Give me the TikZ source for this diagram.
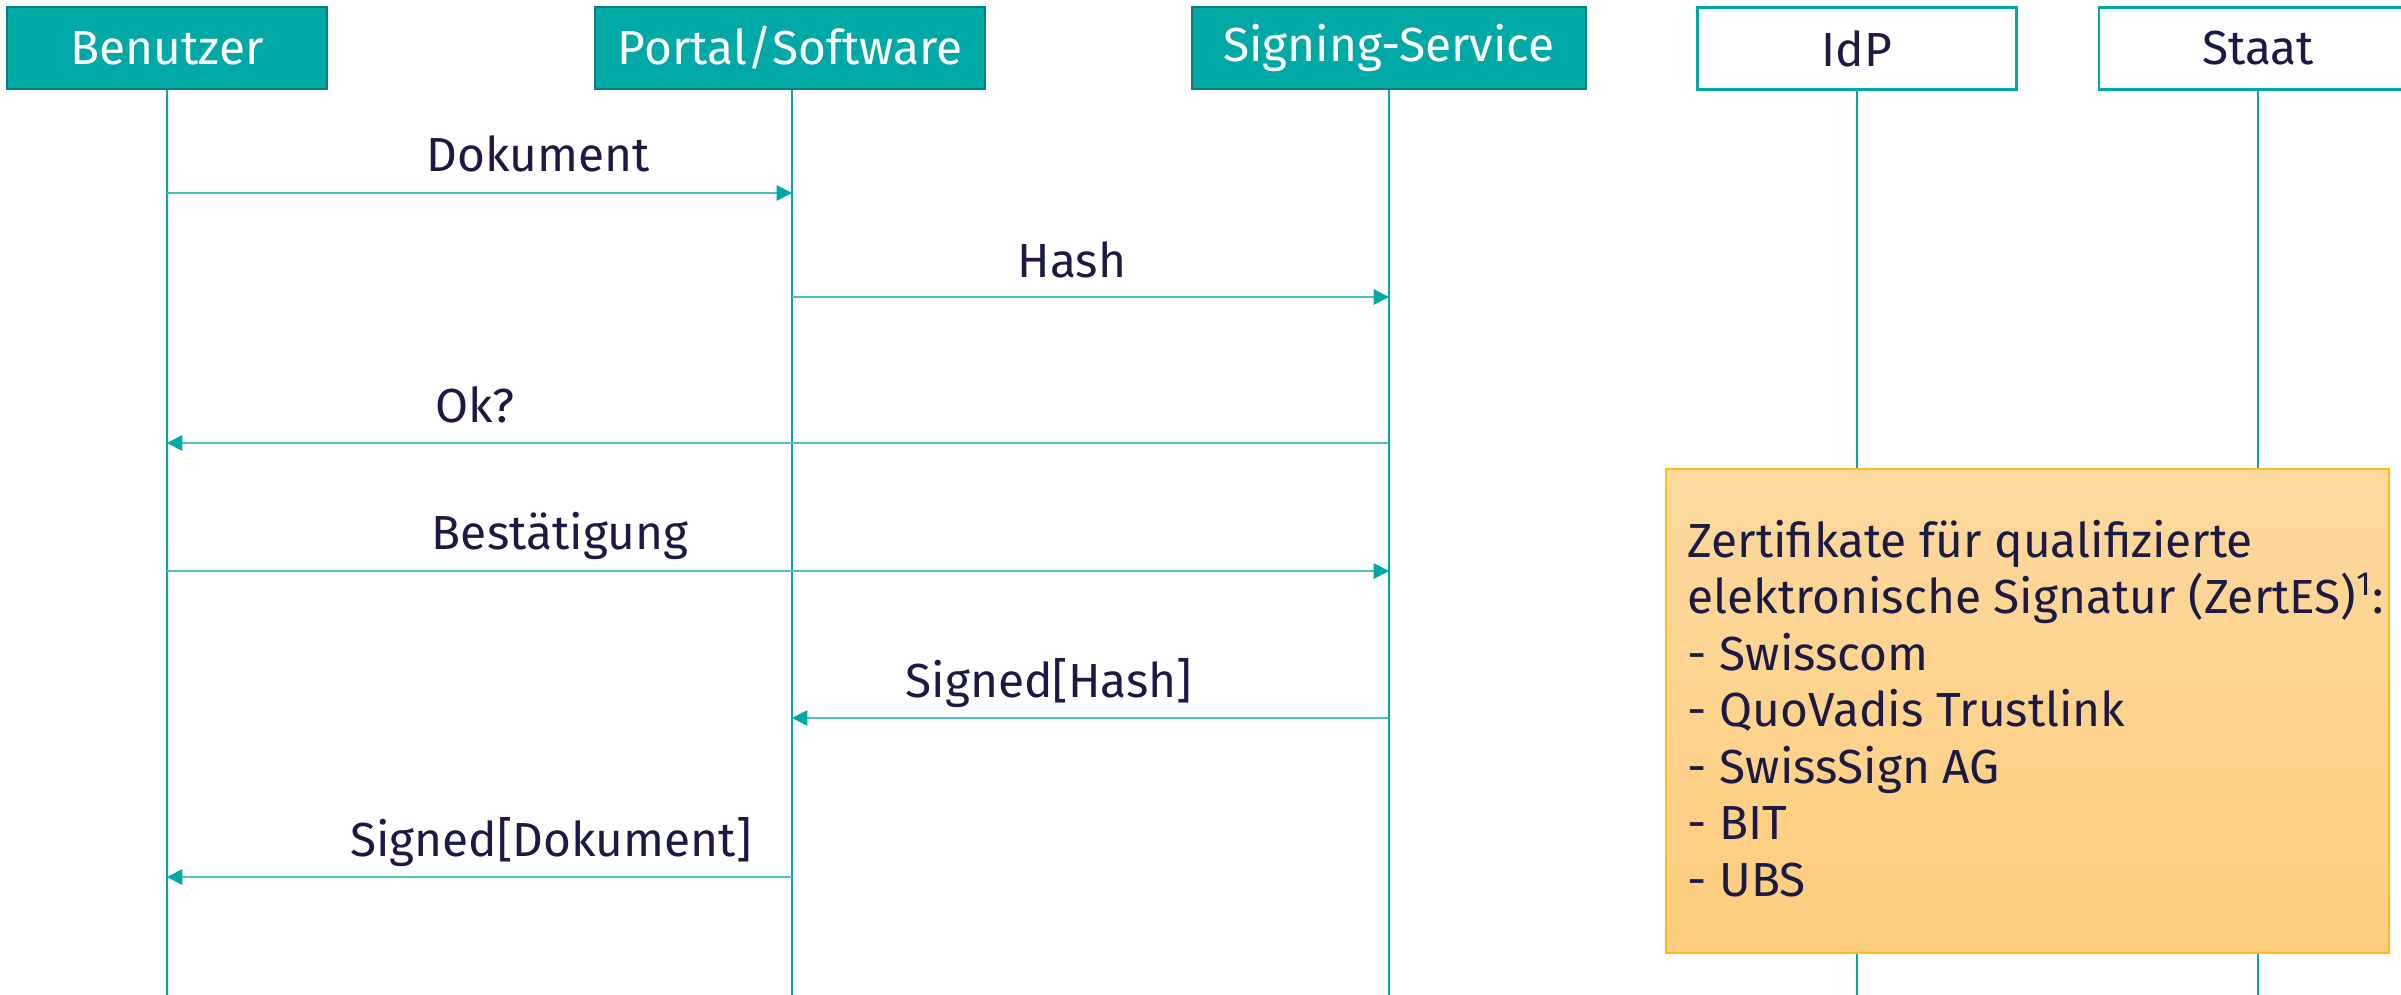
\documentclass[tikz,border=0pt]{standalone}
\usepackage{fontspec}
\setmainfont{Fira Sans}
\usetikzlibrary{arrows.meta}
\definecolor{teal1}{HTML}{00A8A6}
\definecolor{tealdark}{HTML}{0A7F7C}
\definecolor{teallight}{HTML}{4CC0BC}
\definecolor{navy}{HTML}{1B1A45}
\definecolor{orangetop}{HTML}{FDD99E}
\definecolor{orangebot}{HTML}{FECD7D}
\definecolor{orangeborder}{HTML}{FDBB1C}
\tikzset{
  x=0.01cm, y=-0.01cm,
  every node/.style={font=\fontsize{13.6}{16}\selectfont, text=navy, inner sep=0pt},
  actorfill/.style={draw=tealdark, line width=0.6pt, fill=teal1, text=white, minimum height=82*0.2845pt, anchor=north},
  actorwhite/.style={draw=teal1, line width=0.8pt, fill=white, text=navy, minimum height=82*0.2845pt, anchor=north},
  lifeline/.style={draw=teal1, line width=0.55pt},
  msg/.style={draw=teallight, line width=0.55pt, -{Triangle[length=4.4pt, width=4.4pt, fill=teal1, color=teal1]}},
  msglabel/.style={anchor=base},
}
\begin{document}
\begin{tikzpicture}
\useasboundingbox (0,0) rectangle (2401,994);
\begin{scope}
\clip (0,0) rectangle (2401,994);
% headers
\node[actorfill, minimum width=319*0.2845pt] (ben) at (167,6) {Benutzer};
\node[actorfill, minimum width=390*0.2845pt] (por) at (790,6) {Portal/Software};
\node[actorfill, minimum width=393*0.2845pt] (sig) at (1389,6) {Signing-Service};
\node[actorwhite, minimum width=319*0.2845pt] (idp) at (1857,6) {IdP};
\node[actorwhite, minimum width=318*0.2845pt] (sta) at (2258,6) {Staat};
% lifeline ends
\coordinate (benE) at (167,1000);
\coordinate (porE) at (792,1000);
\coordinate (sigE) at (1389,1000);
\coordinate (idpE) at (1857,1000);
\coordinate (staE) at (2258,1000);
\draw[lifeline] (ben.south) -- (benE);
\draw[lifeline] (por.south -| porE) -- (porE);
\draw[lifeline] (sig.south) -- (sigE);
\draw[lifeline] (idp.south) -- (idpE);
\draw[lifeline] (sta.south) -- (staE);
% message anchor coordinates
\coordinate (b1) at (167,193); \coordinate (p1) at (792,193);
\coordinate (p2) at (792,297); \coordinate (s2) at (1389,297);
\coordinate (s3) at (1389,443); \coordinate (b3) at (167,443);
\coordinate (b4) at (167,571); \coordinate (s4) at (1389,571);
\coordinate (s5) at (1389,718); \coordinate (p5) at (792,718);
\coordinate (p6) at (792,877); \coordinate (b6) at (167,877);
\draw[msg] (b1) -- (p1);
\draw[msg] (p2) -- (s2);
\draw[msg] (s3) -- (b3);
\draw[msg] (b4) -- (s4);
\draw[msg] (s5) -- (p5);
\draw[msg] (p6) -- (b6);
\node[msglabel] (l1) at (538,172) {Dokument};
\node[msglabel] (l2) at (1072,277) {Hash};
\node[msglabel] (l3) at (475,422) {Ok?};
\node[msglabel] (l4) at (560,549) {Bestätigung};
\node[msglabel] (l5) at (1049,697) {Signed[Hash]};
\node[msglabel] (l6) at (551,856) {Signed[Dokument]};
% note box
\shade[top color=orangetop, bottom color=orangebot] (1666,469) rectangle (2389,953);
\draw[orangeborder, line width=0.6pt] (1666,469) rectangle (2389,953);
\node[anchor=base west, align=left, font=\fontsize{13.6}{16.05}\selectfont] (note) at (1687,896) {Zertifikate für qualifizierte\\elektronische Signatur (ZertES)\textsuperscript{1}:\\- Swisscom\\- QuoVadis Trustlink\\- SwissSign AG\\- BIT\\- UBS};
\end{scope}
\end{tikzpicture}
\end{document}
